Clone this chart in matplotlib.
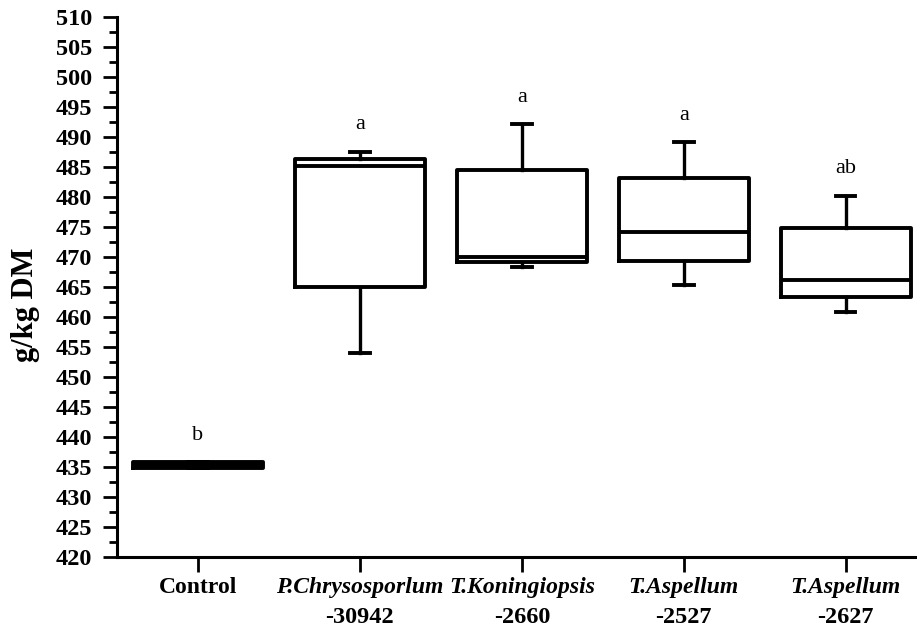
import matplotlib.pyplot as plt
from matplotlib.ticker import MultipleLocator

plt.rcParams['font.family'] = ['Liberation Serif', 'DejaVu Serif']

# treatments and their box statistics (g/kg DM)
groups = ["Control", "P.Chrysosporlum", "T.Koningiopsis", "T.Aspellum", "T.Aspellum"]
strains = ["", "-30942", "-2660", "-2527", "-2627"]
whislo = [434.7, 454.0, 468.2, 465.2, 460.8]
q1 = [434.7, 465.0, 469.1, 469.2, 463.3]
med = [435.2, 485.1, 469.9, 474.2, 466.1]
q3 = [435.7, 486.3, 484.4, 483.1, 474.8]
whishi = [435.7, 487.5, 492.1, 489.1, 480.2]
letters = ["b", "a", "a", "a", "ab"]

stats = []
for i in range(len(groups)):
    stats.append({'label': groups[i], 'whislo': whislo[i], 'q1': q1[i],
                  'med': med[i], 'q3': q3[i], 'whishi': whishi[i], 'fliers': []})

fig = plt.figure(figsize=(9.17, 6.31), dpi=100)
ax = fig.add_axes([0.1276, 0.1178, 0.8724, 0.8557])

lw = 2.8
ax.bxp(stats, positions=range(len(groups)), widths=0.8, capwidths=0.12,
       showfliers=False,
       boxprops=dict(color='black', lw=lw),
       medianprops=dict(color='black', lw=lw),
       whiskerprops=dict(color='black', lw=2.4),
       capprops=dict(color='black', lw=2.8))

# significance letters above the upper whiskers
for i in range(len(groups)):
    ax.text(i, whishi[i] + 4.5, letters[i], ha='center', va='center',
            fontsize=16)

ax.set_xlim(-0.5, 4.44)
ax.set_ylim(420, 510)
ax.yaxis.set_major_locator(MultipleLocator(5))
ax.yaxis.set_minor_locator(MultipleLocator(2.5))
ax.tick_params(axis='y', which='major', length=10, width=2, pad=8,
               labelsize=17.5)
ax.tick_params(axis='y', which='minor', length=6, width=2)
for lab in ax.get_yticklabels():
    lab.set_fontweight('bold')

ax.set_xticks(range(len(groups)))
ax.set_xticklabels([])
ax.tick_params(axis='x', which='major', length=11, width=2)

# two-line category names: italic species, plain strain number
for i in range(len(groups)):
    style = 'normal' if strains[i] == "" else 'italic'
    ax.annotate(groups[i], xy=(i, 0), xycoords=ax.get_xaxis_transform(),
                xytext=(0, -22), textcoords='offset points',
                ha='center', va='center', fontsize=17, fontweight='bold',
                fontstyle=style)
    if strains[i]:
        ax.annotate(strains[i], xy=(i, 0), xycoords=ax.get_xaxis_transform(),
                    xytext=(0, -44), textcoords='offset points',
                    ha='center', va='center', fontsize=17.5, fontweight='bold')

for side in ['top', 'right']:
    ax.spines[side].set_visible(False)
for side in ['left', 'bottom']:
    ax.spines[side].set_linewidth(2.2)

fig.text(26 / 917, 1 - 305 / 631, "g/kg DM", rotation=90, ha='center',
         va='center', fontsize=22, fontweight='bold')

fig.savefig('out.png', dpi=100)
